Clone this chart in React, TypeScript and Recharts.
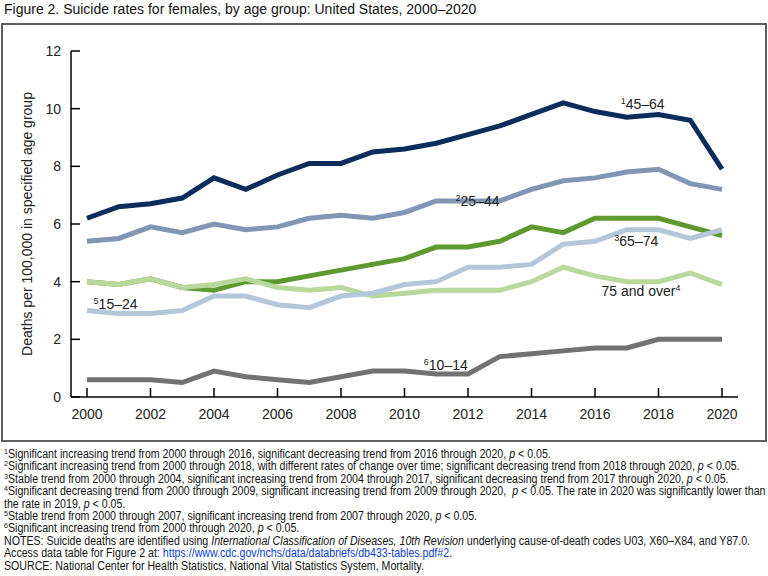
import React from 'react';
import { LineChart, Line, XAxis, YAxis, ReferenceDot } from 'recharts';

const years = [2000, 2001, 2002, 2003, 2004, 2005, 2006, 2007, 2008, 2009, 2010, 2011, 2012, 2013, 2014, 2015, 2016, 2017, 2018, 2019, 2020];
const age45to64 = [6.2, 6.6, 6.7, 6.9, 7.6, 7.2, 7.7, 8.1, 8.1, 8.5, 8.6, 8.8, 9.1, 9.4, 9.8, 10.2, 9.9, 9.7, 9.8, 9.6, 7.9];
const age25to44 = [5.4, 5.5, 5.9, 5.7, 6.0, 5.8, 5.9, 6.2, 6.3, 6.2, 6.4, 6.8, 6.8, 6.8, 7.2, 7.5, 7.6, 7.8, 7.9, 7.4, 7.2];
const age65to74 = [4.0, 3.9, 4.1, 3.8, 3.7, 4.0, 4.0, 4.2, 4.4, 4.6, 4.8, 5.2, 5.2, 5.4, 5.9, 5.7, 6.2, 6.2, 6.2, 5.9, 5.6];
const age75plus = [4.0, 3.9, 4.1, 3.8, 3.9, 4.1, 3.8, 3.7, 3.8, 3.5, 3.6, 3.7, 3.7, 3.7, 4.0, 4.5, 4.2, 4.0, 4.0, 4.3, 3.9];
const age15to24 = [3.0, 2.9, 2.9, 3.0, 3.5, 3.5, 3.2, 3.1, 3.5, 3.6, 3.9, 4.0, 4.5, 4.5, 4.6, 5.3, 5.4, 5.8, 5.8, 5.5, 5.8];
const age10to14 = [0.6, 0.6, 0.6, 0.5, 0.9, 0.7, 0.6, 0.5, 0.7, 0.9, 0.9, 0.8, 0.8, 1.4, 1.5, 1.6, 1.7, 1.7, 2.0, 2.0, 2.0];

const xTicks = [2000, 2002, 2004, 2006, 2008, 2010, 2012, 2014, 2016, 2018, 2020];
const yTicks = [0, 2, 4, 6, 8, 10, 12];

const seriesInfo = [
  { key: 'a65', name: '65–74', color: '#5c9a30', values: age65to74 },
  { key: 'a75', name: '75 and over', color: '#b9d89c', values: age75plus },
  { key: 'a15', name: '15–24', color: '#b4c6da', values: age15to24 },
  { key: 'a25', name: '25–44', color: '#8096b4', values: age25to44 },
  { key: 'a45', name: '45–64', color: '#0b2d5b', values: age45to64 },
  { key: 'a10', name: '10–14', color: '#727272', values: age10to14 },
];

const lineLabels = [
  { year: 2017.5, value: 10.15, sup: '1', text: '45–64', supAfter: false },
  { year: 2012.3, value: 6.8, sup: '2', text: '25–44', supAfter: false },
  { year: 2017.3, value: 5.42, sup: '3', text: '65–74', supAfter: false },
  { year: 2017.45, value: 3.68, sup: '4', text: '75 and over', supAfter: true },
  { year: 2000.9, value: 3.22, sup: '5', text: '15–24', supAfter: false },
  { year: 2011.3, value: 1.12, sup: '6', text: '10–14', supAfter: false },
];

const data = years.map((year, i) => {
  const row: any = { year };
  seriesInfo.forEach((s) => { row[s.key] = s.values[i]; });
  return row;
});

const XTick = (props: any) => {
  const { x, y, payload } = props;
  return (
    <g>
      <line x1={x} x2={x} y1={y} y2={y - 9} stroke="#000" strokeWidth={1.5} />
      <text x={x} y={y + 22} textAnchor="middle" fontSize={14} fill="#222">{payload.value}</text>
    </g>
  );
};

const YTick = (props: any) => {
  const { x, y, payload } = props;
  return (
    <g>
      <line x1={x} x2={x + 9} y1={y} y2={y} stroke="#000" strokeWidth={1.5} />
      <text x={x - 10} y={y + 5} textAnchor="end" fontSize={14} fill="#222">{payload.value}</text>
    </g>
  );
};

const makeLabel = (l: any) => (props: any) => {
  const vb = props.viewBox || {};
  const cx = (vb.x || 0) + (vb.width || 0) / 2;
  const cy = (vb.y || 0) + (vb.height || 0) / 2 + 5;
  return (
    <text x={cx} y={cy} textAnchor="middle" fontSize={14} fill="#222">
      {l.supAfter ? (
        <>
          <tspan>{l.text}</tspan>
          <tspan dy={-5} fontSize={9}>{l.sup}</tspan>
        </>
      ) : (
        <>
          <tspan dy={-5} fontSize={9}>{l.sup}</tspan>
          <tspan dy={5}>{l.text}</tspan>
        </>
      )}
    </text>
  );
};

const Sup = ({ children }: any) => (
  <span style={{ fontSize: 8, position: 'relative', top: -4, lineHeight: 0 }}>{children}</span>
);
const P = () => <i>p</i>;
const rowStyle: React.CSSProperties = { height: 12.4, lineHeight: '12.4px' };

export default function App() {
  return (
    <div style={{ position: 'fixed', left: 0, top: 0, width: 768, height: 576, background: '#fff', fontFamily: "'Liberation Sans', Arial, sans-serif", overflow: 'hidden' }}>
      <div style={{ position: 'absolute', left: 4, top: 1, fontSize: 14, color: '#111', whiteSpace: 'nowrap' }}>
        Figure 2. Suicide rates for females, by age group: United States, 2000–2020
      </div>
      <div style={{ position: 'absolute', left: 1, top: 23, width: 766, height: 419, border: '2px solid #5e5e5e', boxSizing: 'border-box' }} />
      <div style={{ position: 'absolute', left: 0, top: 0 }}>
        <LineChart width={768} height={450} data={data} margin={{ top: 51, right: 30, bottom: 23, left: 31 }}>
          <XAxis
            dataKey="year"
            type="number"
            domain={[2000, 2020]}
            ticks={xTicks}
            padding={{ left: 16, right: 16 }}
            height={30}
            tickSize={0}
            tickMargin={0}
            tickLine={false}
            axisLine={{ stroke: '#000', strokeWidth: 1.5 }}
            tick={<XTick />}
            interval={0}
          />
          <YAxis
            type="number"
            domain={[0, 12]}
            ticks={yTicks}
            width={40}
            tickSize={0}
            tickMargin={0}
            tickLine={false}
            axisLine={{ stroke: '#000', strokeWidth: 1.5 }}
            tick={<YTick />}
            interval={0}
            label={{ value: 'Deaths per 100,000 in specified age group', angle: -90, position: 'insideLeft', offset: -4, style: { textAnchor: 'middle', fontSize: 14, fill: '#222' } }}
          />
          {seriesInfo.map((s) => (
            <Line key={s.key} type="linear" dataKey={s.key} name={s.name} stroke={s.color} strokeWidth={5} dot={false} activeDot={false} isAnimationActive={false} />
          ))}
          {lineLabels.map((l) => (
            <ReferenceDot key={l.text} x={l.year} y={l.value} r={0} fill="none" stroke="none" label={makeLabel(l)} />
          ))}
        </LineChart>
      </div>
      <div style={{ position: 'absolute', left: 4, top: 448, fontSize: 12, color: '#111', whiteSpace: 'nowrap', transform: 'scaleX(0.885)', transformOrigin: '0 0' }}>
        <div style={rowStyle}><Sup>1</Sup>Significant increasing trend from 2000 through 2016, significant decreasing trend from 2016 through 2020, <P /> &lt; 0.05.</div>
        <div style={rowStyle}><Sup>2</Sup>Significant increasing trend from 2000 through 2018, with different rates of change over time; significant decreasing trend from 2018 through 2020, <P /> &lt; 0.05.</div>
        <div style={rowStyle}><Sup>3</Sup>Stable trend from 2000 through 2004, significant increasing trend from 2004 through 2017, significant decreasing trend from 2017 through 2020, <P /> &lt; 0.05.</div>
        <div style={rowStyle}><Sup>4</Sup>Significant decreasing trend from 2000 through 2009, significant increasing trend from 2009 through 2020,&nbsp; <P /> &lt; 0.05. The rate in 2020 was significantly lower than</div>
        <div style={rowStyle}>the rate in 2019, <P /> &lt; 0.05.</div>
        <div style={rowStyle}><Sup>5</Sup>Stable trend from 2000 through 2007, significant increasing trend from 2007 through 2020, <P /> &lt; 0.05.</div>
        <div style={rowStyle}><Sup>6</Sup>Significant increasing trend from 2000 through 2020, <P /> &lt; 0.05.</div>
        <div style={rowStyle}>NOTES: Suicide deaths are identified using <i>International Classification of Diseases, 10th Revision</i> underlying cause-of-death codes U03, X60–X84, and Y87.0.</div>
        <div style={rowStyle}>Access data table for Figure 2 at: <span style={{ color: '#0a3fd6' }}>https://www.cdc.gov/nchs/data/databriefs/db433-tables.pdf#2</span>.</div>
        <div style={rowStyle}>SOURCE: National Center for Health Statistics, National Vital Statistics System, Mortality.</div>
      </div>
    </div>
  );
}
